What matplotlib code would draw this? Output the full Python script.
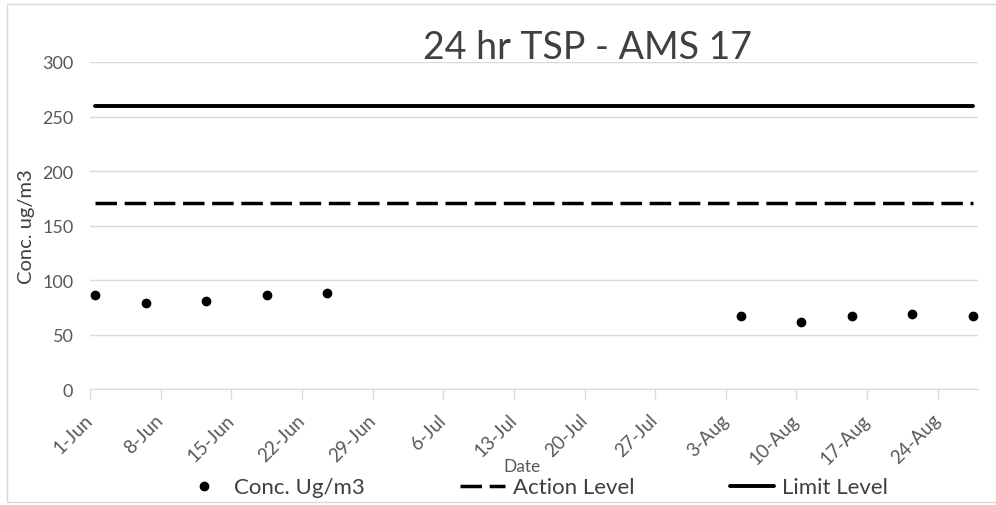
import matplotlib
matplotlib.use("Agg")
import matplotlib.pyplot as plt
import matplotlib.dates as mdates
import matplotlib.transforms as mtransforms
from matplotlib.patches import Rectangle
import numpy as np
import datetime as dt

plt.rcParams['font.family'] = ['Lato', 'DejaVu Sans']

# data
sample_dates = ["2018-06-01", "2018-06-06", "2018-06-12", "2018-06-18", "2018-06-24",
                "2018-08-04", "2018-08-10", "2018-08-15", "2018-08-21", "2018-08-27"]
conc = [86, 79, 81, 86, 88, 67, 62, 67, 69, 67]
action_level = 171
limit_level = 260
y_ticks = [0, 50, 100, 150, 200, 250, 300]

dates = np.array([dt.datetime.fromisoformat(d) for d in sample_dates])
# excel date axis puts the points in the middle of the day
xpos = mdates.date2num(dates) + 0.5
start = mdates.date2num(dt.datetime(2018, 6, 1))
end = mdates.date2num(dt.datetime(2018, 8, 28))
tick_pos = np.arange(start, end, 7)

fig = plt.figure(figsize=(9.96, 5.06), dpi=100)
ax = fig.add_axes([0.0904, 0.229, 0.982 - 0.0904, 0.8755 - 0.229])

grey = '#d9d9d9'
txt = '#595959'

ax.plot(xpos, conc, 'o', color='black', markersize=6, label='Conc. Ug/m3', zorder=3)
ax.plot([xpos[0], xpos[-1]], [action_level] * 2, color='black', lw=2.5,
        dashes=(6.2, 2.2), label='Action Level')
ax.plot([xpos[0], xpos[-1]], [limit_level] * 2, color='black', lw=2.8,
        solid_capstyle='round', label='Limit Level')

ax.set_xlim(start, end)
ax.set_ylim(0, 300)
ax.set_yticks(y_ticks)
ax.set_xticks(tick_pos)
ax.set_xticklabels([mdates.num2date(t).strftime('%-d-%b') for t in tick_pos],
                   rotation=45, ha='right', va='center', rotation_mode='anchor',
                   fontsize=13.5, color=txt)
shift = mtransforms.ScaledTranslation(8 / 100, 0, fig.dpi_scale_trans)
for lab in ax.get_xticklabels():
    lab.set_transform(lab.get_transform() + shift)
ax.tick_params(axis='y', length=0, labelsize=13, labelcolor=txt, pad=12)
ax.tick_params(axis='x', length=7, color=grey, width=1, pad=13)

ax.grid(axis='y', color=grey, lw=1)
ax.set_axisbelow(True)
for s in ['top', 'right', 'left']:
    ax.spines[s].set_visible(False)
ax.spines['bottom'].set_color(grey)

ax.set_ylabel('Conc. ug/m3', fontsize=14.5, color='#404040', labelpad=5)
fig.text(0.524, 0.078, 'Date', fontsize=12.5, color=txt, ha='center', va='center')
fig.text(0.59, 0.905, '24 hr TSP - AMS 17', fontsize=27, color='#404040',
         ha='center', va='center')

leg = fig.legend(loc='center', bbox_to_anchor=(0.537, 0.035), ncol=3, frameon=False,
                 fontsize=16, handlelength=2.0, columnspacing=4.3, handletextpad=0.35)
for t in leg.get_texts():
    t.set_color('#404040')

fig.patches.append(Rectangle((7 / 996, 3 / 506), 989 / 996, 498 / 506,
                             transform=fig.transFigure, fill=False, edgecolor=grey, lw=1))

fig.savefig('out.png', dpi=100)
